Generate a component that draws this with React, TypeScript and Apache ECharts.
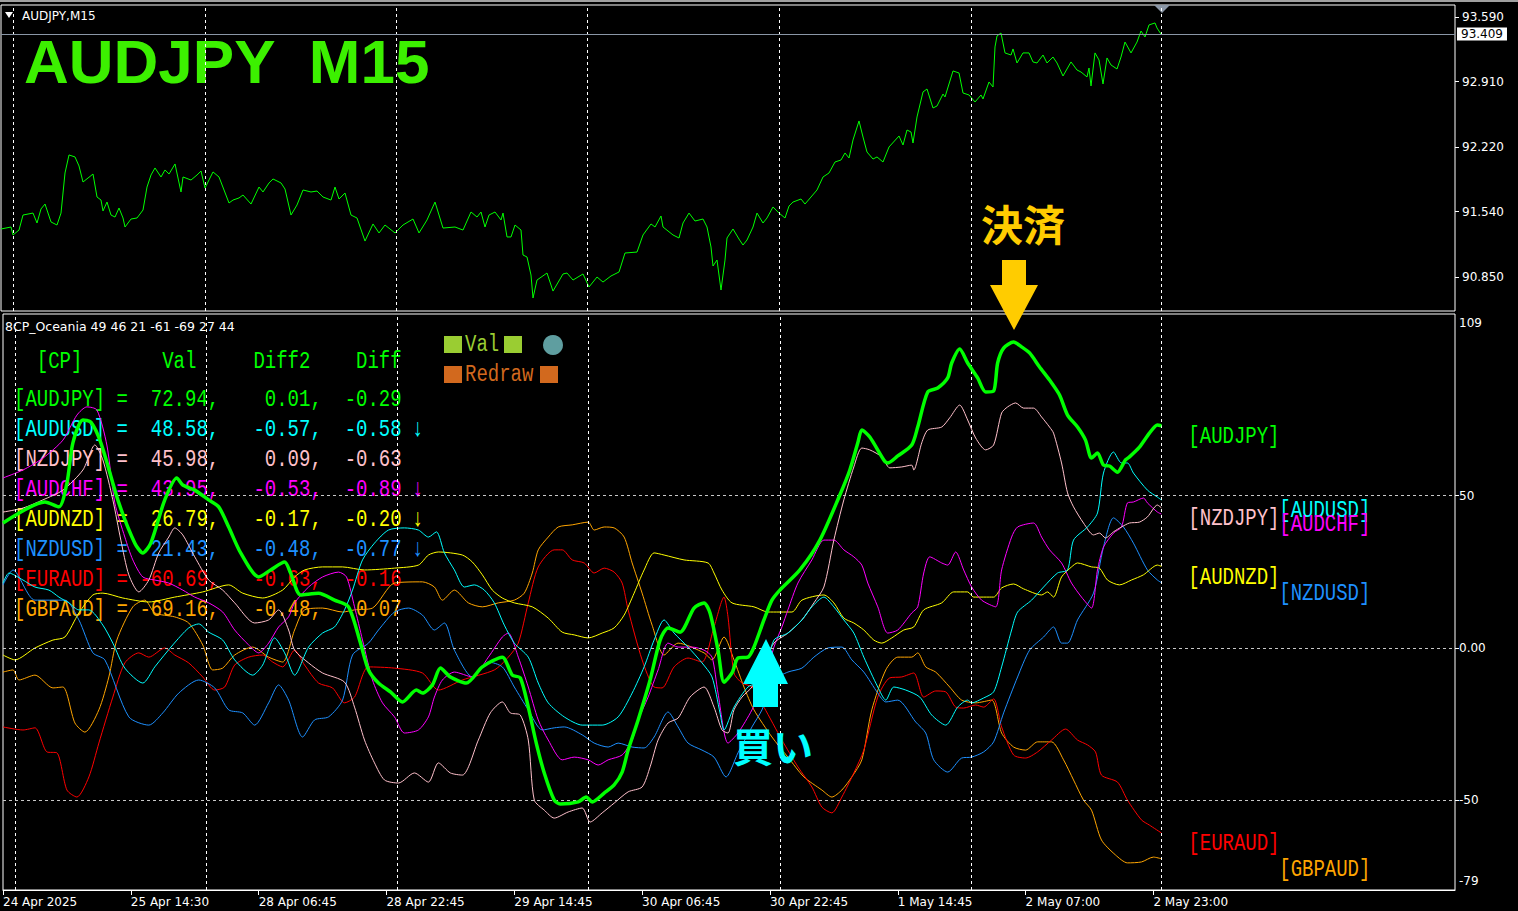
import React, { useEffect, useRef } from "react";
import * as echarts from "echarts";

// ---------- axes / ticks ----------
const xTickBars = [0, 64, 128, 192, 256, 320, 384, 448, 512, 576];
const xTickLabels = ["24 Apr 2025", "25 Apr 14:30", "28 Apr 06:45", "28 Apr 22:45", "29 Apr 14:45", "30 Apr 06:45", "30 Apr 22:45", "1 May 14:45", "2 May 07:00", "2 May 23:00"];
const barsOnScreen = 727;
const daySeparators = [6, 102, 197.5, 293, 389, 485, 580];
const priceTicks = [93.59, 92.91, 92.22, 91.54, 90.85];
const priceAxisMin = 90.492;
const priceAxisMax = 93.716;
const bidPrice = 93.409;
const oscTicks = [109, 50, 0, -50, -79];
const oscTickText = ["109", "50", "0.00", "-50", "-79"];
const oscAxisMin = -79.4;
const oscAxisMax = 109.58;
const oscLevels = [50, 0, -50];

// ---------- price (AUDJPY M15, [bar, price]) ----------
const priceAUDJPY = [[0,91.356],[5,91.377],[6,91.293],[9,91.345],[11,91.503],[16,91.524],[18,91.419],[20,91.567],[22,91.619],[25,91.430],[28,91.398],[30,91.524],[32,91.946],[34,92.136],[37,92.115],[39,92.020],[41,91.851],[46,91.935],[48,91.693],[50,91.661],[51,91.546],[53,91.640],[55,91.503],[57,91.482],[59,91.577],[61,91.472],[62,91.377],[65,91.461],[68,91.472],[71,91.556],[73,91.798],[75,91.925],[77,91.999],[80,91.904],[82,91.978],[84,91.935],[87,92.041],[90,91.746],[91,91.904],[95,91.872],[98,91.925],[100,91.967],[102,91.788],[106,91.957],[109,91.904],[114,91.630],[116,91.661],[119,91.683],[121,91.714],[125,91.619],[129,91.798],[131,91.746],[134,91.841],[136,91.883],[140,91.841],[142,91.777],[145,91.503],[148,91.609],[151,91.767],[155,91.746],[158,91.756],[161,91.693],[165,91.661],[167,91.798],[169,91.672],[172,91.735],[175,91.503],[178,91.472],[182,91.229],[186,91.409],[189,91.314],[192,91.398],[197,91.314],[201,91.398],[206,91.461],[209,91.314],[213,91.451],[217,91.640],[221,91.366],[227,91.377],[231,91.345],[235,91.535],[238,91.482],[240,91.535],[242,91.377],[244,91.503],[247,91.535],[250,91.451],[251,91.524],[253,91.272],[255,91.272],[257,91.398],[260,91.345],[261,91.082],[263,91.061],[265,90.871],[266,90.629],[268,90.818],[273,90.892],[276,90.702],[281,90.882],[283,90.892],[286,90.818],[291,90.882],[294,90.745],[298,90.850],[301,90.797],[305,90.861],[309,90.903],[312,91.103],[318,91.113],[321,91.293],[325,91.409],[327,91.377],[330,91.493],[331,91.377],[336,91.293],[339,91.261],[341,91.419],[344,91.524],[347,91.440],[351,91.461],[353,91.377],[355,91.166],[356,90.966],[358,91.029],[360,90.713],[362,91.029],[363,91.261],[366,91.356],[369,91.250],[371,91.187],[373,91.240],[376,91.377],[378,91.524],[381,91.419],[383,91.472],[386,91.588],[389,91.524],[392,91.472],[394,91.598],[396,91.640],[400,91.672],[402,91.619],[405,91.693],[408,91.767],[411,91.904],[414,91.946],[417,92.062],[420,92.083],[422,92.157],[424,92.104],[426,92.294],[429,92.494],[431,92.325],[433,92.167],[436,92.093],[438,92.115],[441,92.062],[444,92.220],[449,92.336],[451,92.241],[453,92.399],[455,92.378],[456,92.262],[458,92.536],[461,92.800],[463,92.831],[466,92.631],[468,92.652],[471,92.778],[472,92.747],[476,93.021],[479,93.000],[481,92.789],[484,92.768],[487,92.694],[490,92.768],[491,92.726],[494,92.905],[496,92.852],[497,93.274],[498,93.390],[500,93.421],[502,93.211],[505,93.189],[506,93.253],[508,93.105],[511,93.211],[514,93.211],[516,93.116],[518,93.105],[521,93.189],[523,93.105],[526,93.168],[528,93.105],[531,92.968],[535,93.116],[538,93.031],[540,93.010],[543,92.958],[544,93.052],[545,92.863],[547,93.211],[549,93.137],[551,92.884],[553,93.158],[555,93.084],[558,93.042],[560,93.168],[562,93.326],[565,93.211],[568,93.326],[570,93.442],[572,93.379],[574,93.506],[577,93.527],[578,93.474],[580,93.409]];

// ---------- 8CP_Oceania strength lines ([bar, value]) ----------
const oscAUDJPY = [[0,41.0],[21,47.9],[28,46.3],[32,54.1],[35,67.3],[40,74.8],[44,74.1],[49,67.3],[58,47.6],[66,34.4],[70,31.2],[74,34.4],[81,48.6],[87,55.8],[90,53.5],[96,51.8],[103,48.6],[108,46.3],[113,39.7],[119,31.2],[128,23.3],[134,25.6],[141,28.2],[144,24.6],[149,17.4],[158,18.0],[166,15.7],[173,13.5],[179,1.6],[183,-7.2],[188,-11.5],[194,-14.4],[200,-17.7],[207,-13.8],[210,-14.8],[215,-12.1],[219,-6.6],[224,-9.5],[232,-11.5],[240,-6.2],[250,-3.0],[255,-8.9],[259,-9.8],[263,-19.4],[267,-31.2],[271,-41.0],[276,-49.9],[279,-51.2],[288,-50.5],[292,-48.9],[295,-50.5],[301,-47.6],[306,-44.9],[310,-40.7],[313,-33.5],[318,-23.6],[324,-10.5],[329,2.6],[333,6.6],[339,5.2],[346,13.1],[351,14.8],[354,11.5],[358,-0.7],[361,-11.2],[365,-8.2],[368,-3.3],[373,-3.0],[376,0.3],[381,9.2],[385,15.7],[389,19.0],[399,25.6],[409,35.4],[419,50.2],[424,58.4],[428,67.3],[430,71.5],[434,69.2],[441,61.7],[443,60.7],[448,63.0],[455,66.6],[458,72.5],[463,84.0],[468,85.3],[473,88.6],[475,93.5],[479,98.1],[483,93.5],[488,88.6],[492,84.0],[496,84.3],[498,93.5],[501,98.4],[506,100.4],[510,98.8],[514,96.8],[519,92.2],[524,87.9],[529,83.0],[533,76.4],[538,72.5],[542,68.2],[545,62.3],[548,64.0],[551,60.0],[554,59.7],[558,57.7],[562,61.7],[564,62.7],[569,65.9],[574,70.5],[578,73.2],[580,72.94]];
const oscAUDUSD = [[0,21.3],[3,24.6],[10,22.3],[16,20.0],[23,19.0],[28,16.7],[33,14.8],[38,12.5],[43,12.5],[50,7.5],[55,1.6],[61,-6.6],[70,-11.5],[76,-6.2],[85,1.0],[93,6.6],[98,7.9],[103,5.2],[110,2.6],[116,-3.9],[125,-8.9],[130,-5.6],[136,3.3],[141,-1.6],[146,-8.9],[153,0.3],[160,4.9],[166,6.9],[171,12.5],[175,19.0],[180,28.9],[186,34.4],[193,38.7],[201,39.4],[208,38.7],[213,36.4],[217,38.1],[221,31.2],[226,25.6],[231,20.0],[236,20.7],[241,19.0],[246,14.8],[251,7.5],[256,1.6],[263,-3.0],[268,-11.5],[273,-18.0],[281,-22.6],[290,-25.3],[300,-25.3],[308,-22.6],[315,-14.8],[321,-6.2],[326,2.6],[331,9.2],[336,4.9],[343,0.3],[350,-4.9],[355,-9.5],[359,-21.3],[361,-26.9],[366,-19.4],[373,-12.8],[380,-10.5],[386,2.6],[393,4.9],[400,9.2],[405,13.5],[411,16.7],[416,13.5],[421,9.2],[426,4.9],[431,-3.0],[438,-12.8],[442,-17.1],[446,-12.8],[452,-13.8],[459,-16.1],[465,-22.0],[472,-25.3],[478,-19.4],[483,-17.1],[485,-18.0],[491,-16.4],[496,-14.4],[500,-6.2],[505,5.9],[508,11.8],[515,15.7],[521,20.0],[528,24.6],[533,25.6],[536,35.4],[543,39.7],[548,44.3],[551,57.4],[556,64.3],[560,60.7],[563,60.7],[566,57.4],[573,51.8],[578,49.5],[580,48.58]];
const oscNZDJPY = [[0,44.6],[10,45.9],[20,48.6],[30,51.8],[40,58.4],[46,66.6],[50,61.7],[55,48.6],[59,35.4],[63,24.0],[68,18.4],[73,22.3],[78,31.2],[83,36.4],[86,39.4],[90,37.1],[96,29.9],[103,22.3],[110,19.0],[116,14.8],[126,8.2],[133,9.2],[138,12.5],[143,5.9],[146,-0.7],[153,-4.9],[160,-8.2],[171,-11.2],[176,-19.4],[181,-30.2],[186,-37.7],[191,-43.3],[198,-44.3],[206,-41.0],[213,-44.0],[218,-37.7],[224,-41.0],[230,-41.7],[238,-30.2],[244,-21.3],[250,-17.7],[254,-21.3],[259,-22.0],[263,-30.2],[266,-49.9],[271,-53.2],[276,-55.8],[283,-53.8],[290,-52.5],[294,-57.1],[300,-54.1],[306,-50.9],[313,-47.2],[320,-45.6],[324,-39.0],[328,-30.2],[333,-24.6],[338,-23.0],[344,-16.1],[351,-12.8],[356,-19.4],[360,-26.9],[363,-27.9],[366,-20.3],[370,-16.1],[375,-12.8],[380,-6.2],[386,1.6],[393,4.9],[400,9.2],[406,14.8],[411,20.0],[416,35.4],[421,48.6],[426,59.4],[430,65.6],[434,65.0],[440,62.7],[444,59.1],[450,59.4],[455,60.0],[456,58.4],[460,67.3],[463,71.5],[470,72.5],[474,75.5],[479,79.7],[483,74.8],[487,68.9],[492,65.0],[496,66.6],[500,77.1],[503,79.1],[507,80.4],[511,78.7],[516,78.7],[520,75.8],[524,72.5],[526,70.5],[530,60.7],[533,50.9],[536,46.3],[541,41.0],[546,37.1],[549,37.7],[552,36.1],[556,38.1],[560,39.7],[564,41.0],[569,41.3],[573,43.0],[578,46.9],[580,45.98]];
const oscAUDCHF = [[0,55.8],[10,58.4],[20,62.3],[30,68.2],[37,76.4],[42,79.1],[47,78.1],[52,66.6],[56,47.6],[61,36.4],[65,28.9],[70,23.3],[76,22.3],[83,21.3],[90,19.0],[96,16.7],[103,14.8],[110,11.8],[116,5.9],[123,1.0],[128,-1.6],[133,1.6],[138,6.9],[143,10.2],[146,14.8],[153,20.0],[160,23.3],[168,24.9],[172,23.3],[176,13.5],[180,2.6],[185,-10.5],[190,-18.0],[196,-22.6],[201,-27.9],[208,-26.9],[213,-22.6],[216,-16.1],[220,-10.5],[226,-7.9],[235,-9.5],[243,-3.0],[250,3.6],[253,4.9],[258,-3.0],[263,-12.8],[268,-23.6],[273,-30.2],[280,-36.7],[286,-35.8],[293,-36.7],[298,-38.4],[303,-36.7],[310,-35.1],[315,-30.2],[318,-23.6],[323,-16.1],[328,-7.2],[333,1.6],[338,0.3],[345,0.3],[351,-0.7],[355,-3.0],[358,-14.8],[363,-31.2],[368,-27.9],[375,-20.3],[381,-11.5],[386,0.3],[390,6.9],[393,12.5],[398,21.3],[405,28.9],[411,35.4],[416,35.4],[421,32.2],[426,29.9],[430,27.2],[433,21.3],[438,13.5],[443,4.9],[448,5.9],[455,11.5],[458,13.5],[461,24.6],[464,29.9],[470,27.9],[473,27.2],[477,31.5],[481,25.6],[485,20.0],[490,15.7],[497,13.5],[500,25.6],[505,36.4],[508,39.7],[516,41.0],[520,36.4],[524,32.2],[530,27.9],[535,21.3],[540,16.7],[545,13.1],[548,25.6],[551,33.1],[556,37.7],[560,39.7],[563,47.6],[566,47.9],[571,49.2],[573,47.6],[578,44.6],[580,43.95]];
const oscAUDNZD = [[0,-2.3],[6,-3.9],[16,0],[25,2.6],[31,3.6],[38,11.5],[45,17.4],[50,18.0],[60,16.4],[73,15.1],[86,16.7],[100,18.4],[113,20.7],[120,18.0],[130,16.4],[140,19.0],[146,23.3],[151,25.6],[160,26.6],[170,26.6],[181,25.6],[196,26.2],[208,27.2],[213,30.5],[218,31.5],[230,30.5],[235,28.2],[240,24.0],[245,19.0],[250,16.4],[256,14.8],[265,13.5],[273,9.8],[280,5.2],[286,4.3],[293,3.3],[300,4.9],[306,6.6],[311,10.8],[316,18.0],[321,25.6],[326,31.2],[331,30.5],[341,28.9],[353,27.9],[356,24.6],[360,19.0],[365,14.8],[376,13.5],[383,11.8],[395,11.8],[400,15.7],[411,17.4],[416,14.8],[421,9.8],[426,8.2],[431,5.9],[436,2.6],[440,1.6],[445,3.3],[451,5.9],[456,6.9],[461,12.5],[470,14.8],[476,18.4],[483,18.4],[486,16.7],[496,16.7],[500,19.7],[506,21.0],[511,19.4],[520,17.4],[523,18.4],[526,16.7],[530,23.3],[535,26.6],[538,27.9],[545,26.6],[549,26.2],[553,22.3],[559,20.7],[565,22.3],[571,24.0],[578,27.2],[580,26.79]];
const oscNZDUSD = [[0,20.7],[5,25.6],[16,15.7],[31,15.7],[38,9.2],[45,-1.6],[51,-3.9],[63,-22.6],[73,-25.3],[80,-21.3],[88,-14.8],[98,-10.5],[106,-13.1],[113,-20.3],[120,-21.3],[126,-25.3],[133,-18.0],[138,-12.1],[143,-17.1],[150,-29.2],[156,-23.6],[163,-22.6],[170,-17.1],[175,-2.3],[183,1.6],[188,5.9],[196,11.8],[203,13.1],[210,10.8],[216,5.9],[221,8.2],[226,-0.7],[235,-9.5],[243,-4.6],[250,-6.2],[256,-12.8],[263,-20.3],[270,-26.9],[276,-26.2],[281,-25.9],[290,-28.5],[296,-31.2],[303,-32.5],[308,-31.2],[315,-32.5],[321,-32.8],[326,-29.2],[333,-21.0],[338,-25.9],[343,-31.2],[350,-33.5],[356,-35.8],[362,-42.3],[368,-34.4],[375,-25.9],[380,-20.3],[386,-10.5],[393,-7.9],[400,-6.6],[406,-3.0],[413,0],[420,0.3],[425,-3.9],[431,-7.9],[438,-14.8],[442,-17.7],[448,-17.1],[457,-24.3],[462,-27.9],[466,-36.7],[473,-40.7],[480,-36.1],[485,-35.8],[491,-34.1],[496,-30.8],[501,-21.3],[508,-9.5],[514,-0.7],[521,3.6],[526,6.9],[530,1.6],[533,1.6],[538,9.2],[546,18.0],[551,33.1],[556,42.7],[561,39.7],[566,34.4],[573,25.6],[578,22.3],[580,21.43]];
const oscEURAUD = [[0,-25.9],[10,-26.9],[16,-26.2],[22,-34.1],[27,-34.4],[32,-46.6],[37,-48.9],[43,-42.3],[48,-31.2],[55,-16.1],[61,-4.9],[68,-1.6],[73,-3.0],[81,0],[86,-2.3],[93,-4.9],[100,-9.5],[106,-13.8],[111,-12.8],[116,-5.6],[123,-3.0],[130,-2.3],[135,-4.6],[140,-6.2],[146,-0.7],[151,-5.6],[158,-11.5],[165,-13.1],[171,-18.0],[176,-16.1],[183,-6.2],[196,-6.6],[210,-8.2],[218,-13.8],[230,-10.5],[246,-7.2],[253,-3.0],[258,1.6],[263,14.8],[268,26.6],[276,32.2],[280,32.2],[285,28.9],[291,27.9],[296,24.6],[301,26.2],[306,24.9],[310,21.3],[313,12.5],[320,-3.9],[326,-12.8],[330,-13.1],[336,-6.2],[343,-3.3],[350,-4.6],[356,6.9],[361,16.7],[363,10.2],[366,-8.2],[370,-11.5],[375,-12.8],[381,-19.4],[390,-30.2],[398,-39.0],[405,-45.6],[410,-52.2],[415,-54.1],[420,-48.9],[426,-41.0],[431,-33.5],[438,-16.1],[444,-9.8],[450,-9.5],[456,-8.2],[461,-16.1],[467,-14.1],[472,-14.4],[477,-19.4],[481,-19.7],[487,-18.7],[491,-19.4],[496,-16.7],[500,-25.9],[506,-35.1],[512,-36.1],[518,-34.1],[525,-30.2],[532,-26.6],[538,-30.2],[543,-31.8],[547,-34.1],[550,-41.7],[558,-44.0],[563,-49.9],[570,-56.4],[574,-58.1],[580,-60.69]];
const oscGBPAUD = [[0,-7.9],[5,-7.2],[8,-10.5],[16,-8.9],[25,-13.1],[30,-12.8],[36,-24.6],[41,-27.6],[48,-20.3],[53,-9.5],[57,2.6],[65,13.5],[71,15.7],[76,11.5],[86,10.2],[93,8.2],[100,1.0],[105,-7.2],[110,-6.6],[116,-2.3],[125,0.3],[133,-3.0],[140,-4.6],[146,5.9],[151,12.5],[160,13.1],[170,11.8],[176,12.5],[185,13.1],[196,21.3],[210,21.7],[216,20.0],[220,15.7],[226,19.0],[233,14.8],[240,13.5],[248,14.8],[256,15.7],[261,18.0],[265,24.6],[268,32.2],[273,36.4],[278,39.7],[285,40.4],[293,41.3],[296,38.7],[301,39.7],[306,39.4],[311,36.4],[315,27.9],[320,18.0],[325,7.5],[331,-2.3],[338,1.6],[351,-1.6],[355,-3.9],[361,3.6],[366,-3.9],[371,-12.8],[376,-20.3],[385,-29.2],[393,-35.8],[401,-42.3],[410,-46.6],[415,-48.9],[420,-46.6],[425,-42.3],[430,-36.7],[435,-20.3],[442,-7.2],[448,-3.0],[455,-3.0],[458,-1.6],[462,-6.2],[467,-7.9],[474,-12.8],[480,-17.1],[487,-18.0],[495,-17.1],[500,-27.9],[506,-32.5],[512,-33.5],[518,-30.8],[525,-30.8],[531,-36.7],[536,-43.3],[541,-49.9],[545,-53.2],[550,-63.0],[557,-67.9],[563,-70.5],[570,-70.2],[576,-68.6],[580,-69.16]];

// ---------- table / legend ----------
const pairNames = ["AUDJPY", "AUDUSD", "NZDJPY", "AUDCHF", "AUDNZD", "NZDUSD", "EURAUD", "GBPAUD"];
const pairColors = ["#00ff00", "#00ffff", "#ffc0cb", "#ff00ff", "#ffff00", "#1e90ff", "#ff0000", "#ffa500"];
const pairSeries = [oscAUDJPY, oscAUDUSD, oscNZDJPY, oscAUDCHF, oscAUDNZD, oscNZDUSD, oscEURAUD, oscGBPAUD];
const pairVal = [72.94, 48.58, 45.98, 43.95, 26.79, 21.43, -60.69, -69.16];
const pairDiff2 = [0.01, -0.57, 0.09, -0.53, -0.17, -0.48, -0.63, -0.48];
const pairDiff = [-0.29, -0.58, -0.63, -0.89, -0.2, -0.77, -0.16, 0.07];
const pairArrow = ["", "↓", "", "↓", "↓", "↓", "", ""];
const labelColumn = [0, 1, 0, 1, 0, 1, 0, 1];
const labelBars = [593.5, 639];
const indicatorTitle = "8CP_Oceania 49 46 21 -61 -69 27 44";

const MONO = '"Liberation Mono", "DejaVu Sans Mono", monospace';
const UI = '"DejaVu Sans", sans-serif';
const CJK = '"Noto Sans CJK JP", sans-serif';

function txt(x: number, y: number, text: string, fill: string, size: number, family: string, align = "left", extra: any = {}) {
  const { bold, ...rest } = extra;
  return {
    type: "text",
    x,
    y,
    silent: true,
    ...rest,
    style: {
      text,
      fill,
      fontSize: size,
      fontFamily: family,
      fontWeight: bold ? "bold" : "normal",
      align,
      textAlign: align,
      verticalAlign: "middle",
      textVerticalAlign: "middle",
    },
  };
}

export default function App() {
  const ref = useRef<HTMLDivElement>(null);
  useEffect(() => {
    document.body.style.margin = "0";
    document.body.style.background = "#000";
    const chart = echarts.init(ref.current!, null, { renderer: "svg" });

    const oscLabelPos = oscTicks.map((v) => (v === oscTicks[0] ? v - 2.4 : v === oscTicks[oscTicks.length - 1] ? v + 2.6 : v));
    const sepLines = daySeparators.map((b) => ({ xAxis: b }));
    const dashWhite = { color: "#ffffff", type: [3, 3], width: 1 };

    const oscOrder = [7, 6, 5, 4, 3, 2, 1, 0];
    const oscSeries = oscOrder.map((i, k) => ({
      type: "line",
      name: pairNames[i],
      xAxisIndex: 1,
      yAxisIndex: 1,
      data: pairSeries[i],
      symbol: "none",
      smooth: 0.25,
      z: i === 0 ? 5 : 3,
      lineStyle: { color: pairColors[i], width: i === 0 ? 3.5 : 1 },
      markLine:
        k === 0
          ? {
              silent: true,
              symbol: ["none", "none"],
              label: { show: false },
              data: [
                ...sepLines.map((d) => ({ ...d, lineStyle: dashWhite })),
                ...oscLevels.map((v) => ({ yAxis: v, lineStyle: { color: "#c8c8c8", type: [3, 3], width: 1 } })),
              ],
            }
          : undefined,
    }));

    const option: any = {
      animation: false,
      backgroundColor: "#000000",
      grid: [
        { left: 1, top: 5, width: 1454, height: 306, show: true, borderColor: "#ffffff", borderWidth: 1 },
        { left: 1, top: 314, width: 1454, height: 576, show: true, borderColor: "#ffffff", borderWidth: 1 },
      ],
      xAxis: [
        { gridIndex: 0, type: "value", min: 0, max: barsOnScreen, axisLine: { show: false, onZero: false }, axisTick: { show: false }, axisLabel: { show: false }, splitLine: { show: false } },
        {
          gridIndex: 1,
          type: "value",
          min: 0,
          max: barsOnScreen,
          axisLine: { show: true, onZero: false, lineStyle: { color: "#ffffff" } },
          axisTick: { show: true, customValues: xTickBars, length: 5, lineStyle: { color: "#ffffff" } },
          axisLabel: {
            show: true,
            customValues: xTickBars,
            formatter: (v: number) => {
              const i = xTickBars.indexOf(Math.round(v));
              return i >= 0 ? xTickLabels[i] : "";
            },
            color: "#ffffff",
            fontFamily: UI,
            fontSize: 12,
            align: "left",
            margin: 6,
          },
          splitLine: { show: false },
        },
      ],
      yAxis: [
        {
          gridIndex: 0,
          type: "value",
          position: "right",
          min: priceAxisMin,
          max: priceAxisMax,
          axisLine: { show: false, onZero: false },
          axisTick: { show: true, customValues: priceTicks, length: 4, lineStyle: { color: "#ffffff" } },
          axisLabel: { customValues: priceTicks, formatter: (v: number) => v.toFixed(3), color: "#ffffff", fontFamily: UI, fontSize: 12, margin: 7 },
          splitLine: { show: false },
        },
        {
          gridIndex: 1,
          type: "value",
          position: "right",
          min: oscAxisMin,
          max: oscAxisMax,
          axisLine: { show: false, onZero: false },
          axisTick: { show: true, customValues: oscLevels, length: 4, lineStyle: { color: "#ffffff" } },
          axisLabel: {
            customValues: oscLabelPos,
            formatter: (v: number) => {
              let best = 0;
              oscLabelPos.forEach((p, i) => {
                if (Math.abs(p - v) < Math.abs(oscLabelPos[best] - v)) best = i;
              });
              return oscTickText[best];
            },
            color: "#ffffff",
            fontFamily: UI,
            fontSize: 12,
            margin: 4,
          },
          splitLine: { show: false },
        },
      ],
      series: [
        {
          type: "line",
          name: "AUDJPY,M15",
          xAxisIndex: 0,
          yAxisIndex: 0,
          data: priceAUDJPY,
          symbol: "none",
          lineStyle: { color: "#00ff00", width: 1 },
          markLine: {
            silent: true,
            symbol: ["none", "none"],
            data: [
              ...sepLines.map((d) => ({ ...d, lineStyle: dashWhite, label: { show: false } })),
              {
                yAxis: bidPrice,
                lineStyle: { color: "#8a96a6", type: "solid", width: 1 },
                label: {
                  show: true,
                  position: "end",
                  distance: 2,
                  formatter: bidPrice.toFixed(3),
                  backgroundColor: "#ffffff",
                  color: "#000000",
                  padding: [1, 4, 0, 4],
                  fontFamily: UI,
                  fontSize: 12,
                },
              },
            ],
          },
        },
        ...oscSeries,
      ],
    };
    chart.setOption(option);

    const g: any[] = [];
    g.push({ type: "rect", silent: true, shape: { x: 0, y: 0, width: 1518, height: 2 }, style: { fill: "#a0a0a0" } });
    g.push({ type: "polygon", silent: true, shape: { points: [[5, 12], [13, 12], [9, 18]] }, style: { fill: "#ffffff" } });
    g.push(txt(22, 16, "AUDJPY,M15", "#ffffff", 12, UI));
    g.push({ type: "polygon", silent: true, shape: { points: [[1154, 5], [1170, 5], [1162, 13]] }, style: { fill: "#8a96a6" } });
    g.push(txt(24, 61, "AUDJPY  M15", "#3cf000", 62, '"Liberation Sans", Arial, sans-serif', "left", { bold: true }));
    g.push(txt(5, 326, indicatorTitle, "#ffffff", 12.5, UI));

    // table
    const cw = 11.4;
    const x0 = 14;
    const sy = { scaleY: 1.3 };
    const hdr = "#00ff00";
    g.push(txt(x0 + 2 * cw, 362, "[CP]", hdr, 19, MONO, "left", sy));
    g.push(txt(x0 + 13 * cw, 362, "Val", hdr, 19, MONO, "left", sy));
    g.push(txt(x0 + 21 * cw, 362, "Diff2", hdr, 19, MONO, "left", sy));
    g.push(txt(x0 + 30 * cw, 362, "Diff", hdr, 19, MONO, "left", sy));
    pairNames.forEach((n, i) => {
      const y = 400 + 30 * i;
      const c = pairColors[i];
      g.push(txt(x0, y, `[${n}]`, c, 19, MONO, "left", sy));
      g.push(txt(x0 + 9 * cw, y, "=", c, 19, MONO, "left", sy));
      g.push(txt(x0 + 18 * cw, y, `${pairVal[i].toFixed(2)},`, c, 19, MONO, "right", sy));
      g.push(txt(x0 + 27 * cw, y, `${pairDiff2[i].toFixed(2)},`, c, 19, MONO, "right", sy));
      g.push(txt(x0 + 34 * cw, y, `${pairDiff[i].toFixed(2)}`, c, 19, MONO, "right", sy));
      if (pairArrow[i]) g.push(txt(x0 + 35 * cw - 1, y, pairArrow[i], c, 19, MONO, "left", sy));
    });

    // Val / Redraw widget
    const yg = "#9acd32";
    const ch = "#d2691e";
    g.push({ type: "rect", silent: true, shape: { x: 444, y: 336, width: 18, height: 17 }, style: { fill: yg } });
    g.push(txt(465, 345, "Val", yg, 19, MONO, "left", sy));
    g.push({ type: "rect", silent: true, shape: { x: 504, y: 336, width: 18, height: 17 }, style: { fill: yg } });
    g.push({ type: "circle", silent: true, shape: { cx: 553, cy: 345, r: 10 }, style: { fill: "#5f9ea0" } });
    g.push({ type: "rect", silent: true, shape: { x: 444, y: 366, width: 18, height: 17 }, style: { fill: ch } });
    g.push(txt(465, 375, "Redraw", ch, 19, MONO, "left", sy));
    g.push({ type: "rect", silent: true, shape: { x: 540, y: 366, width: 18, height: 17 }, style: { fill: ch } });

    // right-hand pair labels at each pair's last value
    pairNames.forEach((n, i) => {
      const p = chart.convertToPixel({ gridIndex: 1 }, [labelBars[labelColumn[i]], pairVal[i]]) as number[];
      g.push(txt(p[0], p[1] + 11, `[${n}]`, pairColors[i], 19, MONO, "left", { scaleY: 1.3 }));
    });

    // annotations
    const gold = "#ffcc00";
    const aqua = "#00ffff";
    g.push({ ...txt(1023, 222, "決済", gold, 42, CJK, "center", { bold: true }), z: 100 });
    g.push({ type: "polygon", silent: true, z: 100, shape: { points: [[1002, 260], [1026, 260], [1026, 285], [1038, 285], [1014, 330], [990, 285], [1002, 285]] }, style: { fill: gold } });
    g.push({ ...txt(773, 745, "買い", aqua, 40, CJK, "center", { bold: true }), z: 100 });
    g.push({ type: "polygon", silent: true, z: 100, shape: { points: [[766, 639], [788, 684], [778, 684], [778, 707], [753, 707], [753, 684], [743, 684]] }, style: { fill: aqua } });

    chart.setOption({ graphic: g });
    return () => chart.dispose();
  }, []);
  return <div ref={ref} style={{ width: 1518, height: 911, position: "absolute", left: 0, top: 0, background: "#000" }} />;
}
